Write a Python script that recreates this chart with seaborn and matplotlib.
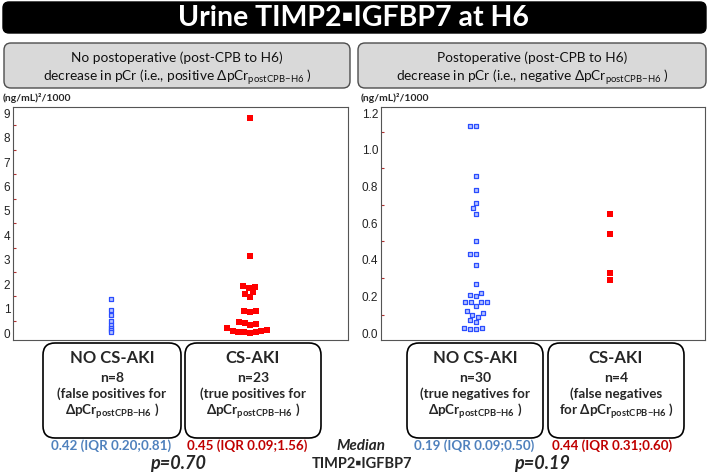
import pandas as pd
import matplotlib.pyplot as plt
import seaborn as sns
from matplotlib.patches import FancyBboxPatch
from matplotlib.ticker import MultipleLocator, FormatStrFormatter

groups = ["NO CS-AKI", "CS-AKI"]

# left panel: no postoperative decrease in pCr
left_no_aki = [1.38, 0.95, 0.75, 0.50, 0.35, 0.22, 0.12, 0.03]
left_aki = [8.8, 3.15, 1.92, 1.88, 1.85, 1.68, 1.60, 1.48, 0.92, 0.90, 0.86,
            0.45, 0.42, 0.38, 0.33, 0.20, 0.12, 0.09, 0.07, 0.05, 0.04, 0.03, 0.02]
# right panel: postoperative decrease in pCr
right_no_aki = [1.13, 1.13, 0.86, 0.78, 0.71, 0.68, 0.65, 0.50, 0.43, 0.43,
                0.37, 0.27, 0.22, 0.21, 0.20, 0.17, 0.17, 0.17, 0.17, 0.15,
                0.12, 0.11, 0.10, 0.09, 0.07, 0.06, 0.03, 0.03, 0.02, 0.02]
right_aki = [0.65, 0.54, 0.33, 0.29]

left_medians = ["0.42 (IQR 0.20;0.81)", "0.45 (IQR 0.09;1.56)"]
right_medians = ["0.19 (IQR 0.09;0.50)", "0.44 (IQR 0.31;0.60)"]
p_values = ["p=0.70", "p=0.19"]
left_boxes = [["NO CS-AKI", "n=8", "(false positives for", "sub )"],
              ["CS-AKI", "n=23", "(true positives for", "sub )"]]
right_boxes = [["NO CS-AKI", "n=30", "(true negatives for", "sub )"],
               ["CS-AKI", "n=4", "(false negatives", "for sub )"]]

BLUE_TXT = "#4f81bd"
RED_TXT = "#c00000"
FAM = ["Lato", "DejaVu Sans"]
SUB_B = r"ΔpCr$_{\mathbf{postCPB{-}H6}}$"
SUB_R = r"ΔpCr$_{\mathrm{postCPB{-}H6}}$"

sns.set_style("white")
plt.rcParams["font.family"] = FAM
plt.rcParams["mathtext.fontset"] = "custom"
plt.rcParams["mathtext.rm"] = "Lato"
plt.rcParams["mathtext.bf"] = "Lato:bold"

fig = plt.figure(figsize=(7.09, 4.74), dpi=100)

# overlay in pixel units for boxes and text
ov = fig.add_axes([0, 0, 1, 1], zorder=0)
ov.set_xlim(0, 709)
ov.set_ylim(474, 0)
ov.axis("off")


def rbox(x0, y0, x1, y1, fc, ec, lw, r):
    ov.add_patch(FancyBboxPatch((x0 + r, y0 + r), x1 - x0 - 2 * r, y1 - y0 - 2 * r,
                                boxstyle=f"round,pad={r}", fc=fc, ec=ec, lw=lw))


# title bar
rbox(3, 2, 706, 33, "black", "black", 1, 6)
ov.text(354, 18, "Urine TIMP2▪IGFBP7 at H6", color="white", fontsize=20.5,
        fontweight="bold", ha="center", va="center")

# gray headers
rbox(4, 43, 350, 88, "#d9d9d9", "#4d4d4d", 1, 7)
rbox(358, 43, 706, 88, "#d9d9d9", "#4d4d4d", 1, 7)
hdr = dict(fontsize=9.8, ha="center", va="center", color="#111111")
ov.text(177, 58, "No postoperative (post-CPB to H6)", **hdr)
ov.text(177, 77, "decrease in pCr (i.e., positive " + SUB_R + " )", **hdr)
ov.text(532, 58, "Postoperative (post-CPB to H6)", **hdr)
ov.text(532, 77, "decrease in pCr (i.e., negative " + SUB_R + " )", **hdr)

ov.text(3, 98, "(ng/mL)²/1000", fontsize=7.5, fontweight="bold", ha="left", va="center")
ov.text(361, 98, "(ng/mL)²/1000", fontsize=7.5, fontweight="bold", ha="left", va="center")

# bottom group boxes
box_x = [(43, 181), (185, 321), (407, 543), (548, 684)]
box_lines = left_boxes + right_boxes
for (x0, x1), lines in zip(box_x, box_lines):
    rbox(x0, 343, x1, 438, "white", "black", 1.2, 12)
    cx = (x0 + x1) / 2
    ov.text(cx, 358, lines[0], fontsize=12, fontweight="bold", ha="center", va="center")
    ov.text(cx, 378, lines[1], fontsize=10, fontweight="bold", ha="center", va="center")
    ov.text(cx, 394, lines[2], fontsize=9.6, fontweight="bold", ha="center", va="center")
    ov.text(cx, 411, lines[3].replace("sub", SUB_B), fontsize=9.6, fontweight="bold",
            ha="center", va="center")

med_x = [111, 247, 474, 612]
for x, s, c in zip(med_x, left_medians + right_medians, [BLUE_TXT, RED_TXT] * 2):
    ov.text(x, 446, s, fontsize=9.6, fontweight="bold", color=c, ha="center", va="center")
ov.text(361, 446, "Median", fontsize=11, fontweight="bold", style="italic",
        ha="center", va="center")
ov.text(362, 464, "TIMP2▪IGFBP7", fontsize=10.5, fontweight="bold", ha="center", va="center")
ov.text(178, 464, p_values[0], fontsize=13, fontweight="bold", style="italic",
        ha="center", va="center")
ov.text(542, 464, p_values[1], fontsize=13, fontweight="bold", style="italic",
        ha="center", va="center")

# scatter panels
bottom = (474 - 340) / 474
height = 233 / 474
axL = fig.add_axes([13 / 709, bottom, 335 / 709, height], zorder=2)
axR = fig.add_axes([381 / 709, bottom, 324 / 709, height], zorder=2)

blue_kw = dict(marker="s", size=3.4, color="#b8c4ff", edgecolor="#2a4dff", linewidth=0.9)
red_kw = dict(marker="s", size=4.0, color="#ff0000", linewidth=0)


def panel(ax, no_aki, aki, ylim, major, minor, fmt, straight_blue):
    d_no = pd.DataFrame({"group": groups[0], "value": no_aki})
    d_aki = pd.DataFrame({"group": groups[1], "value": aki})
    if straight_blue:
        sns.stripplot(data=d_no, x="group", y="value", order=groups, jitter=False,
                      ax=ax, **blue_kw)
    else:
        sns.swarmplot(data=d_no, x="group", y="value", order=groups, ax=ax, **blue_kw)
    sns.swarmplot(data=d_aki, x="group", y="value", order=groups, ax=ax, **red_kw)
    ax.set_xlim(-0.707, 1.707)
    ax.set_ylim(*ylim)
    ax.set_xlabel("")
    ax.set_ylabel("")
    ax.set_xticks([0, 1])
    ax.set_xticklabels([])
    ax.yaxis.set_major_locator(MultipleLocator(major))
    ax.yaxis.set_minor_locator(MultipleLocator(minor))
    ax.yaxis.set_major_formatter(FormatStrFormatter(fmt))
    ax.tick_params(axis="both", which="major", direction="in", length=4, width=0.8,
                   color="#222222", labelsize=8.5, labelcolor="#222222", pad=2)
    ax.tick_params(axis="y", which="minor", direction="in", length=2.5, width=0.8,
                   color="#b03030", left=True)
    for lab in ax.get_yticklabels():
        lab.set_family("Liberation Sans")
    for sp in ax.spines.values():
        sp.set_visible(True)
        sp.set_color("#555555")
        sp.set_linewidth(0.8)
    ax.patch.set_alpha(0)


panel(axL, left_no_aki, left_aki, (-0.28, 9.25), 1, 0.5, "%d", True)
panel(axR, right_no_aki, right_aki, (-0.038, 1.234), 0.2, 0.1, "%.1f", False)

fig.savefig("out.png", dpi=100)
